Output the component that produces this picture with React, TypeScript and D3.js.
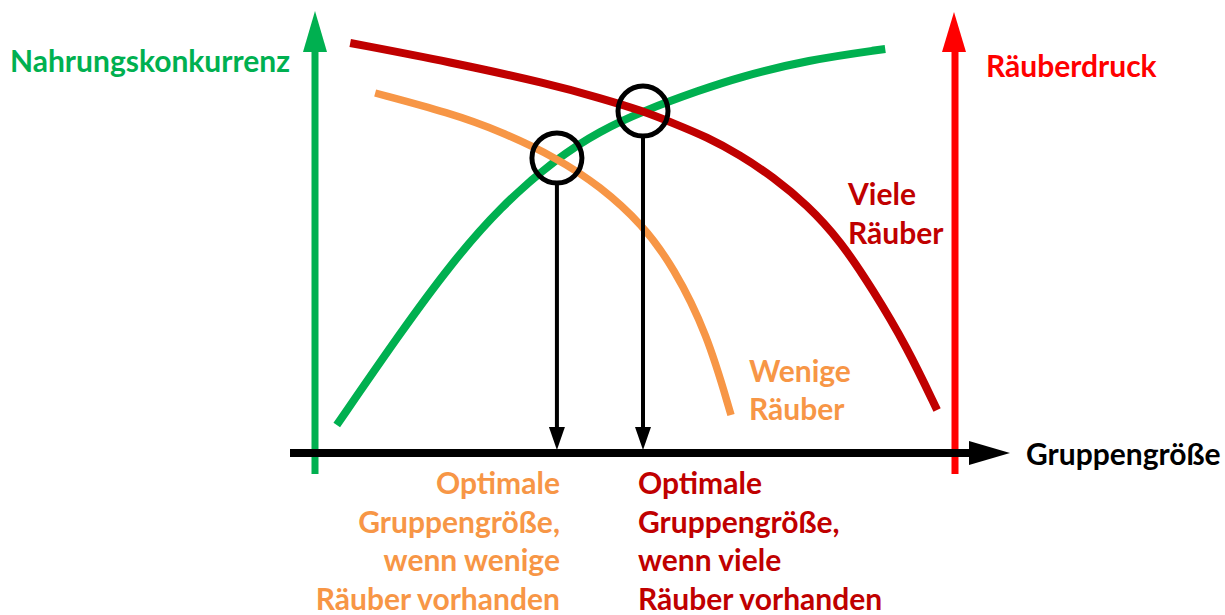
import React from 'react';
import * as d3 from 'd3';

// group size (x) vs. pressure (y), both in arbitrary units 0..100
const competition = [
  [3.4, 7], [13.3, 30], [21.1, 47], [28.9, 61.5], [37.8, 73.75], [44.5, 80.5],
  [51.25, 85.5], [60.2, 90.75], [66.4, 94], [76.9, 98.25], [89.1, 101],
];
const manyPredators = [
  [5.5, 102.5], [21.1, 97.75], [36.7, 92.25], [44.5, 88.75], [51.25, 85.5], [55.9, 82.5],
  [61.25, 79], [66.4, 74.5], [71.6, 69], [76.9, 62], [82.0, 53.25], [87.2, 40.75],
  [92.5, 26.5], [97.2, 10.75],
];
const fewPredators = [
  [9.4, 90], [21.1, 85], [28.9, 80.5], [37.8, 73.75], [44.5, 66.75], [51.25, 57],
  [56.0, 46.5], [61.25, 30], [65.0, 9.5],
];
const optima = [
  { x: 37.8, y: 73.75, color: '#F79646', anchor: 'end', dx: 3, lines: ['Optimale', 'Gruppengröße,', 'wenn wenige', 'Räuber vorhanden'] },
  { x: 51.25, y: 85.5, color: '#C00000', anchor: 'start', dx: -5, lines: ['Optimale', 'Gruppengröße,', 'wenn viele', 'Räuber vorhanden'] },
];

const GREEN = '#00B050';
const DARKRED = '#C00000';
const ORANGE = '#F79646';
const RED = '#FF0000';

export default function App() {
  const width = 1225;
  const height = 615;

  const x = d3.scaleLinear().domain([0, 100]).range([315, 955]);
  const y = d3.scaleLinear().domain([0, 110]).range([453, 13]);

  const line = d3.line<number[]>()
    .x(d => x(d[0]))
    .y(d => y(d[1]))
    .curve(d3.curveBasis);

  const x0 = x(0);
  const x1 = x(100);
  const y0 = y(0);
  const top = y(110);
  const font = { fontFamily: 'Lato, "Open Sans", sans-serif', fontWeight: 700, fontSize: 30 };
  const r = 25;

  return (
    <svg width={width} height={height} style={{ position: 'absolute', left: 0, top: 0, background: '#fff' }}>
      {/* curves */}
      <path d={line(competition) || ''} fill="none" stroke={GREEN} strokeWidth={8} />
      <path d={line(manyPredators) || ''} fill="none" stroke={DARKRED} strokeWidth={8} />
      <path d={line(fewPredators) || ''} fill="none" stroke={ORANGE} strokeWidth={7.5} />

      {/* left axis */}
      <line x1={x0} x2={x0} y1={y0 + 21} y2={top + 38} stroke={GREEN} strokeWidth={7} />
      <polygon points={`${x0},${top - 2} ${x0 - 12},${top + 39} ${x0 + 12},${top + 39}`} fill={GREEN} />
      {/* right axis */}
      <line x1={x1} x2={x1} y1={y0 + 21} y2={top + 38} stroke={RED} strokeWidth={7} />
      <polygon points={`${x1 - 1},${top - 1} ${x1 - 13},${top + 39} ${x1 + 11},${top + 39}`} fill={RED} />
      {/* x axis */}
      <line x1={x0 - 25} x2={x1 + 16} y1={y0} y2={y0} stroke="#000" strokeWidth={8} />
      <polygon points={`${x1 + 55},${y0} ${x1 + 14},${y0 - 12} ${x1 + 14},${y0 + 12}`} fill="#000" />

      {/* optima */}
      {optima.map((o, i) => (
        <g key={i}>
          <circle cx={x(o.x)} cy={y(o.y)} r={r} fill="none" stroke="#000" strokeWidth={5} />
          <line x1={x(o.x)} x2={x(o.x)} y1={y(o.y) + r} y2={y0 - 20} stroke="#000" strokeWidth={4} />
          <polygon points={`${x(o.x)},${y0 - 3} ${x(o.x) - 8},${y0 - 26} ${x(o.x) + 8},${y0 - 26}`} fill="#000" />
          <text x={x(o.x) + o.dx} y={493} textAnchor={o.anchor as any} fill={o.color} style={font}>
            {o.lines.map((t, j) => (
              <tspan key={j} x={x(o.x) + o.dx} y={494 + j * 38.5}>{t}</tspan>
            ))}
          </text>
        </g>
      ))}

      {/* labels */}
      <text x={10} y={72} fill={GREEN} style={font}>Nahrungskonkurrenz</text>
      <text x={986} y={77} fill={RED} style={font}>Räuberdruck</text>
      <text x={1026} y={465} fill="#000" style={font}>Gruppengröße</text>
      <text fill={DARKRED} style={font}>
        <tspan x={848} y={205}>Viele</tspan>
        <tspan x={848} y={244}>Räuber</tspan>
      </text>
      <text fill={ORANGE} style={font}>
        <tspan x={749} y={382}>Wenige</tspan>
        <tspan x={749} y={420}>Räuber</tspan>
      </text>
    </svg>
  );
}
